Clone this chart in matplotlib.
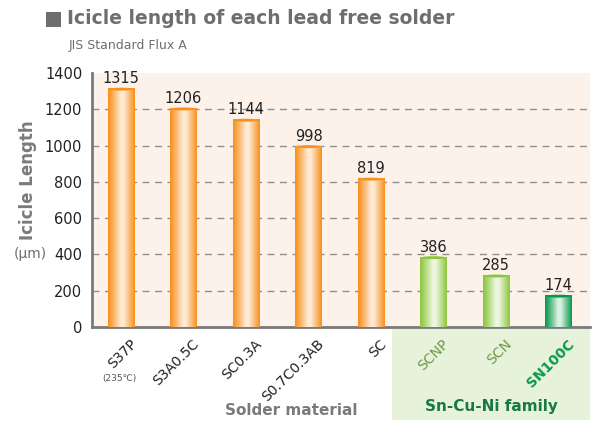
import matplotlib.pyplot as plt
import numpy as np
from matplotlib.colors import LinearSegmentedColormap
from matplotlib.patches import Rectangle, Ellipse

solders = ["S37P", "S3A0.5C", "SC0.3A", "S0.7C0.3AB", "SC", "SCNP", "SCN", "SN100C"]
icicle_um = [1315, 1206, 1144, 998, 819, 386, 285, 174]
bar_group = ["orange", "orange", "orange", "orange", "orange", "lightgreen", "lightgreen", "darkgreen"]
y_ticks = [0, 200, 400, 600, 800, 1000, 1200, 1400]

COLORS = {
    "orange":     ("#F7901E", "#FFEBD6"),
    "lightgreen": ("#8CC63E", "#EEF7E2"),
    "darkgreen":  ("#05984A", "#DDF1E4"),
}
LABEL_COLORS = {"orange": "#222222", "lightgreen": "#6E9A45", "darkgreen": "#0A9A4A"}

fig = plt.figure(figsize=(5.95, 4.23), dpi=100)
ax = fig.add_axes([0.1546, 0.2270, 0.8370, 0.6004])

# green family box under the axis (figure coords)
fig.patches.append(Rectangle((392 / 595, 1 - 420 / 423), (590 - 392) / 595, (420 - 327) / 423,
                             transform=fig.transFigure, facecolor="#E6F2D9", edgecolor="none", zorder=-1))

ax.set_facecolor("#FDF2E9")
x = np.arange(len(solders))
width = 0.42

for xi, val, grp in zip(x, icicle_um, bar_group):
    edge, mid = COLORS[grp]
    cmap = LinearSegmentedColormap.from_list(grp, [(0, edge), (0.45, mid), (0.55, mid), (1, edge)])
    bar = ax.bar(xi, val, width=width, color=edge, zorder=3, linewidth=0)[0]
    grad = np.linspace(0, 1, 100).reshape(1, -1) ** 1.1
    im = ax.imshow(grad, extent=[xi - width / 2, xi + width / 2, 0, val], aspect="auto",
                   cmap=cmap, zorder=4, interpolation="bicubic")
    im.set_clip_path(bar)
    # darker cap on the top
    ax.add_patch(Ellipse((xi, val - 4), width, 16, facecolor=edge, edgecolor="none", zorder=5))
    ax.text(xi, val + 12, str(val), ha="center", va="bottom", fontsize=10.5, color="#222222", zorder=6)

ax.set_xlim(-0.465, 7.505)
ax.set_ylim(0, 1400)
ax.set_yticks(y_ticks)
ax.set_yticklabels([str(t) for t in y_ticks], fontsize=10.5, color="#222222")
ax.tick_params(axis="y", length=0, pad=7)
ax.tick_params(axis="x", length=0)
ax.set_xticks([])

for t in y_ticks[1:-1]:
    ax.axhline(t, color="#8F8F8F", linestyle=(0, (5, 4)), linewidth=1, zorder=1)

for side in ["top", "right"]:
    ax.spines[side].set_visible(False)
for side in ["left", "bottom"]:
    ax.spines[side].set_color("#7A7A7A")
    ax.spines[side].set_linewidth(2)

# rotated category labels
for xi, name, grp in zip(x, solders, bar_group):
    ax.annotate(name, xy=(xi, 0), xytext=(6, -7), textcoords="offset points",
                rotation=45, ha="right", va="top", rotation_mode="anchor",
                fontsize=10, color=LABEL_COLORS[grp],
                fontweight="bold" if grp == "darkgreen" else "normal",
                annotation_clip=False)
ax.annotate("(235℃)", xy=(0, 0), xytext=(-1, -34), textcoords="offset points",
            ha="center", va="top", fontsize=6.5, color="#555555", annotation_clip=False)

# titles and axis texts
fig.patches.append(Rectangle((46 / 595, 1 - 27 / 423), 15 / 595, 15 / 423,
                             transform=fig.transFigure, facecolor="#6E6E6E", edgecolor="none"))
fig.text(67 / 595, 1 - 19 / 423, "Icicle length of each lead free solder", fontsize=13.5,
         fontweight="bold", color="#6E6E6E", va="center", ha="left")
fig.text(69 / 595, 1 - 45 / 423, "JIS Standard Flux A", fontsize=9, color="#6E6E6E", va="center")
fig.text(28 / 595, 1 - 180 / 423, "Icicle Length", fontsize=12, fontweight="bold", color="#7A7A7A",
         rotation=90, ha="center", va="center")
fig.text(30 / 595, 1 - 254 / 423, "(μm)", fontsize=10, color="#6E6E6E", ha="center", va="center")
fig.text(291 / 595, 1 - 410 / 423, "Solder material", fontsize=11, fontweight="bold", color="#7A7A7A",
         ha="center", va="center")
fig.text(491 / 595, 1 - 406 / 423, "Sn-Cu-Ni family", fontsize=11, fontweight="bold", color="#187A3E",
         ha="center", va="center")

fig.savefig("out.png", dpi=100)
